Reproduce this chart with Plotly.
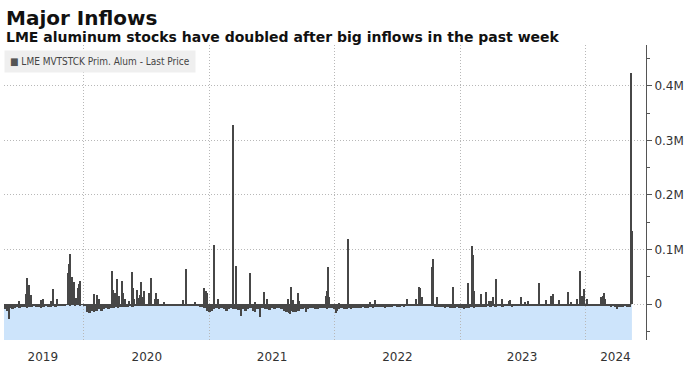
import pandas as pd
import plotly.graph_objects as go

# ---------------- data ----------------
# weekly baseline outflows (tonnes, thousands), weeks starting Monday 2019-05-13
outflow_2019 = [-9, -12, -8, -10, -7, -6, -8, -5, -6, -7, -5, -6, -4, -6, -5, -7, -5,
                -4, -6, -5, -4, -5, -3, -4, -2, -2, -1, -2, -1, -2, -1, -2, -1, -2]
outflow_2020 = [-14, -16, -12, -15, -13, -10, -12, -9, -8, -9, -7, -8, -6, -7, -6, -5, -6,
                -5, -4, -5, -3, -4, -3, -4, -3, -2, -3, -2, -3, -2, -3, -2, -2, -3, -2,
                -2, -3, -2, -3, -2, -3, -2, -2, -3, -2, -4, -3, -5, -6, -8, -12, -14]
outflow_2021 = [-12, -10, -8, -9, -7, -9, -12, -10, -8, -10, -9, -11, -9, -10, -12, -9, -8,
                -12, -15, -10, -9, -8, -10, -9, -11, -8, -9, -7, -8, -10, -12, -14, -16,
                -13, -15, -14, -12, -10, -9, -8, -9, -7, -8, -9, -10, -8, -7, -8, -9, -7,
                -8, -10]
outflow_2022 = [-12, -9, -8, -10, -9, -8, -9, -7, -8, -7, -8, -6, -7, -8, -6, -7, -6, -6,
                -5, -6, -7, -5, -5, -6, -4, -5, -5, -4, -5, -4, -4, -3, -4, -3, -2, -3,
                -2, -3, -2, -3, -4, -5, -6, -5, -6, -7, -6, -8, -7, -8, -6, -7]
outflow_2023 = [-8, -9, -7, -8, -6, -7, -6, -5, -6, -5, -6, -4, -5, -4, -5, -4, -3, -5,
                -4, -3, -4, -5, -4, -3, -4, -3, -3, -4, -3, -2, -3, -3, -2, -3, -2, -2,
                -3, -2, -3, -3, -2, -2, -3, -2, -3, -2, -3, -2, -2, -3, -2, -2]
outflow_2024 = [-3, -2, -3, -2, -3, -2, -3, -2, -3, -4, -5, -4, -6, -5, -6, -5, -4, -6, -5]
week_start = "2019-05-13"

# daily movements (tonnes)
spike_dates = [
    "2019-05-28", "2019-06-26", "2019-07-15", "2019-07-18", "2019-07-26", "2019-07-30",
    "2019-08-29", "2019-09-05", "2019-09-27", "2019-10-02", "2019-10-04", "2019-10-14",
    "2019-11-15", "2019-11-18", "2019-11-21", "2019-11-28", "2019-12-04", "2019-12-10",
    "2019-12-16", "2019-12-18", "2019-12-20",
    "2020-01-31", "2020-02-07", "2020-02-13", "2020-03-23", "2020-03-26", "2020-03-31",
    "2020-04-06", "2020-04-13", "2020-04-20", "2020-04-24", "2020-04-29", "2020-05-12",
    "2020-05-19", "2020-05-22", "2020-05-26", "2020-06-03", "2020-06-08", "2020-06-11",
    "2020-06-16", "2020-06-19", "2020-06-25", "2020-07-09", "2020-07-14", "2020-07-27",
    "2020-07-30", "2020-08-05", "2020-08-21", "2020-10-14", "2020-10-23", "2020-11-20",
    "2020-12-17", "2020-12-21", "2020-12-23",
    "2021-01-15", "2021-01-25", "2021-03-11", "2021-03-19", "2021-04-02", "2021-04-28",
    "2021-05-13", "2021-05-28", "2021-06-08", "2021-06-18", "2021-08-16", "2021-08-24",
    "2021-08-26", "2021-08-31", "2021-09-15", "2021-09-17", "2021-10-08", "2021-12-06",
    "2021-12-10", "2021-12-13", "2021-12-16",
    "2022-01-04", "2022-01-14", "2022-02-09", "2022-04-14", "2022-04-29", "2022-07-29",
    "2022-08-24", "2022-09-02", "2022-09-07", "2022-09-09", "2022-09-13", "2022-10-10",
    "2022-10-11", "2022-10-14", "2022-10-26", "2022-12-12",
    "2023-01-23", "2023-02-03", "2023-02-07", "2023-02-09", "2023-03-02", "2023-03-16",
    "2023-03-27", "2023-03-31", "2023-04-06", "2023-04-14", "2023-05-04", "2023-05-22",
    "2023-05-26", "2023-06-27", "2023-07-10", "2023-07-18", "2023-08-18", "2023-09-08",
    "2023-09-21", "2023-09-29", "2023-10-16", "2023-11-10", "2023-11-20", "2023-12-06",
    "2023-12-15", "2023-12-22", "2023-12-27",
    "2024-01-05", "2024-02-15", "2024-02-20", "2024-02-23", "2024-02-28", "2024-04-01",
    "2024-05-13", "2024-05-14",
]
spike_values = [
    -28000, 5000, 18000, 48000, 35000, 17000,
    8000, 9000, 6000, 17000, 27000, 9000,
    57000, 73000, 92000, 49000, 41000, 11000,
    29000, 37000, 43000,
    18000, 17000, 9000, 60000, 25000, 20000,
    45000, 15000, 42000, 20000, 10000, 6000,
    58000, 29000, 9000, 25000, 11000, 17000,
    40000, 13000, 24000, 20000, 48000, 9000,
    20000, 9000, 4000, 7000, 64000, 4000,
    29000, 24000, 21000,
    108000, 9000, 328000, 70000, -22000, 56000,
    4000, -23000, 22000, 10000, 9000, -18000,
    32000, 8000, 20000, 6000, -15000, 15000,
    23000, 68000, 13000,
    -16000, 2000, 119000, 4000, 7000, 9000,
    10000, 32000, 29000, 13000, 12000, 17000,
    67000, 82000, 13000, 31000,
    39000, 106000, 90000, 24000, 19000, 22000,
    6000, 6000, 13000, 45000, 9000, 6000,
    7000, 12000, 4000, 6000, 39000, 7000,
    15000, 18000, 7000, 22000, 4000, 10000,
    60000, 15000, 27000,
    10000, 12000, 15000, 20000, 9000, -9000,
    423000, 133000,
]

year_label_dates = ["2019-09-03", "2020-07-02", "2021-07-02", "2022-07-02", "2023-06-30", "2024-03-28"]
year_labels = ["2019", "2020", "2021", "2022", "2023", "2024"]
year_starts = ["2020-01-01", "2021-01-01", "2022-01-01", "2023-01-01", "2024-01-01"]
y_tick_vals = [0, 100000, 200000, 300000, 400000]
y_tick_text = ["0", "0.1M", "0.2M", "0.3M", "0.4M"]
y_minor_vals = [-50000, 50000, 150000, 250000, 350000, 450000]
x_range = ["2019-05-13", "2024-06-25"]
y_range = [-66000, 475000]
data_end = "2024-05-15"

weekly = [v * 1000 for v in outflow_2019 + outflow_2020 + outflow_2021 +
          outflow_2022 + outflow_2023 + outflow_2024]
week_dates = pd.date_range(week_start, periods=len(weekly), freq="W-MON")

DARK = "#474747"
DAY = 86400000

fig = go.Figure()
fig.add_trace(go.Bar(x=week_dates, y=weekly, width=7 * DAY, offset=0,
                     marker=dict(color=DARK, line=dict(width=0)),
                     name="LME MVTSTCK Prim. Alum - Last Price", showlegend=False))
fig.add_trace(go.Bar(x=pd.to_datetime(spike_dates), y=spike_values, width=3 * DAY,
                     marker=dict(color=DARK, line=dict(width=0)),
                     name="LME MVTSTCK Prim. Alum - Last Price", showlegend=False))

# light-blue band under zero across the data span
fig.add_shape(type="rect", xref="x", yref="y", x0=week_start, x1=data_end,
              y0=y_range[0], y1=0, fillcolor="#cde4fb", line=dict(width=0), layer="below")

fig.update_layout(
    width=687, height=372,
    margin=dict(l=4, r=41, t=45, b=32),
    paper_bgcolor="white", plot_bgcolor="white",
    barmode="overlay", bargap=0,
    font=dict(family="DejaVu Sans, Verdana, sans-serif", size=12, color="#333333"),
    xaxis=dict(type="date", range=x_range, tickmode="array", tickvals=year_label_dates,
               ticktext=year_labels, ticks="", showgrid=False, showline=False,
               zeroline=False, ticklabelstandoff=8,
               tickfont=dict(size=12, color="#333333"),
               minor=dict(tickmode="array", tickvals=year_starts, showgrid=True,
                          gridcolor="#b8b8b8", griddash="1px,2px", gridwidth=1, ticks="")),
    yaxis=dict(side="right", range=y_range, tickmode="array", tickvals=y_tick_vals,
               ticktext=y_tick_text, ticks="outside", ticklen=5, tickcolor="#555555",
               showline=True, linecolor="#555555", linewidth=1,
               showgrid=True, gridcolor="#b8b8b8", griddash="1px,2px", zeroline=False,
               tickfont=dict(size=12, color="#333333"),
               minor=dict(tickmode="array", tickvals=y_minor_vals, ticks="outside",
                          ticklen=3, tickcolor="#555555", showgrid=False)),
    showlegend=False,
)

fig.add_annotation(xref="paper", yref="paper", x=0, y=1.139, xanchor="left", yanchor="top",
                   text="<b>Major Inflows</b>", showarrow=False,
                   font=dict(family="DejaVu Sans, Verdana, sans-serif", size=20, color="#111111"))
fig.add_annotation(xref="paper", yref="paper", x=0, y=1.061, xanchor="left", yanchor="top",
                   text="<b>LME aluminum stocks have doubled after big inflows in the past week</b>",
                   showarrow=False,
                   font=dict(family="DejaVu Sans, Verdana, sans-serif", size=14, color="#111111"))
fig.add_annotation(xref="paper", yref="paper", x=0, y=0.983, xanchor="left", yanchor="top",
                   text="<span style='color:#555555'>■</span> LME MVTSTCK Prim. Alum - Last Price",
                   showarrow=False, bgcolor="#efefef", borderpad=5,
                   font=dict(family="Liberation Sans Narrow, DejaVu Sans Condensed, Arial Narrow, sans-serif",
                             size=10, color="#444444"))

fig.write_html("out.html", config={"displayModeBar": False},
               post_script="document.body.style.margin='0';")
